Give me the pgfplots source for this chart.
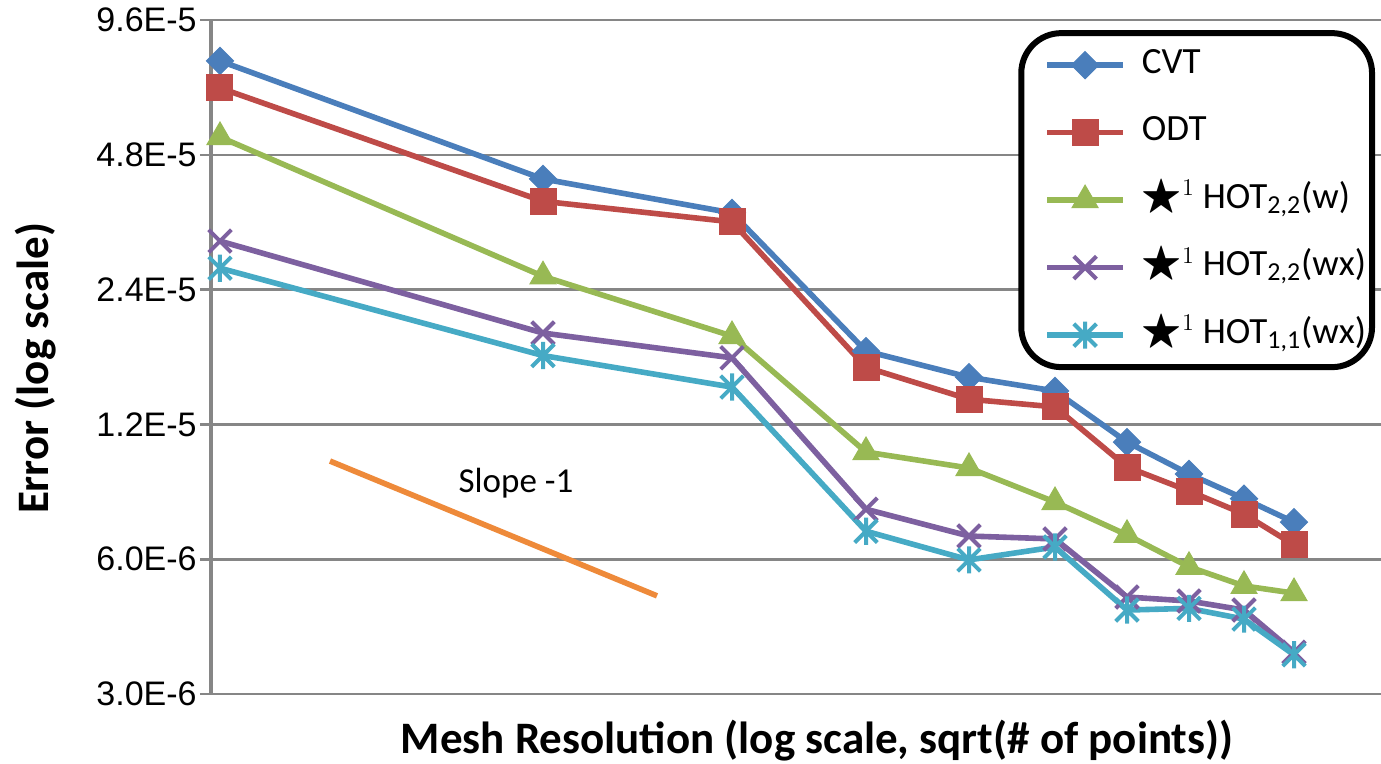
\documentclass[border=0pt]{standalone}
\usepackage{amssymb}
\usepackage{pgfplots}
\pgfplotsset{compat=1.18}
\usepackage{fontspec}
\setmainfont{Carlito}
\newfontfamily\arialfont{Liberation Sans}

\definecolor{cvt}{HTML}{4A7EBB}
\definecolor{odt}{HTML}{BE4B48}
\definecolor{hotw}{HTML}{98B954}
\definecolor{hotwx}{HTML}{7D60A0}
\definecolor{hotone}{HTML}{46AAC5}
\definecolor{slope}{HTML}{EE8A3A}
\definecolor{gridgray}{RGB}{134,134,134}

\pgfdeclareplotmark{xstar}{%
  \pgfpathmoveto{\pgfqpoint{-.7071\pgfplotmarksize}{-.7071\pgfplotmarksize}}%
  \pgfpathlineto{\pgfqpoint{.7071\pgfplotmarksize}{.7071\pgfplotmarksize}}%
  \pgfpathmoveto{\pgfqpoint{-.7071\pgfplotmarksize}{.7071\pgfplotmarksize}}%
  \pgfpathlineto{\pgfqpoint{.7071\pgfplotmarksize}{-.7071\pgfplotmarksize}}%
  \pgfpathmoveto{\pgfqpoint{0pt}{-.85\pgfplotmarksize}}%
  \pgfpathlineto{\pgfqpoint{0pt}{.85\pgfplotmarksize}}%
  \pgfusepathqstroke}

\newcommand{\hstar}{\scalebox{1.15}{$\bigstar$}$^{1}$\hspace{4pt}}

\begin{document}
\begin{tikzpicture}
\begin{axis}[
  at={(0pt,0pt)}, anchor=south west,
  scale only axis, width=585pt, height=337pt,
  xmin=211, xmax=1381,
  ymode=log, ymin=3e-6, ymax=9.6e-5,
  ytick={3e-6,6e-6,1.2e-5,2.4e-5,4.8e-5,9.6e-5},
  yticklabels={3.0E-6,6.0E-6,1.2E-5,2.4E-5,4.8E-5,9.6E-5},
  yminorticks=false,
  xtick=\empty,
  axis y line*=left, axis x line*=bottom,
  x axis line style={draw=none},
  y axis line style={draw=gridgray, line width=2pt},
  ymajorgrids, grid style={draw=gridgray, line width=1.3pt},
  tick align=outside, major tick length=5.5pt,
  ytick style={draw=gridgray, line width=1.3pt},
  yticklabel style={font=\arialfont\fontsize{17}{20}\selectfont, text=black, inner sep=0pt, xshift=-1.5pt},
  xlabel={\bfseries Mesh Resolution (log scale, sqrt(\# of points))},
  ylabel={\bfseries Error (log scale)},
  xlabel style={font=\fontsize{22.5}{26}\selectfont, at={(axis description cs:0.518,-0.069)}, anchor=center},
  ylabel style={font=\fontsize{22.5}{26}\selectfont, at={(axis description cs:-0.1496,0.483)}, anchor=center},
  clip=false,
  legend cell align=left,
  legend image code/.code={\path (-8.5pt,0pt); \draw[mark repeat=2,mark phase=2,#1] plot coordinates {(0pt,0pt) (19pt,0pt) (38pt,0pt)};},
  legend style={at={(0.9949,0.985)}, anchor=north east, draw=black, line width=3pt,
    rounded corners=20pt, inner xsep=3pt, inner ysep=8pt,
    font=\fontsize{18.5}{22}\selectfont, row sep=17.75pt,
    nodes={inner sep=0pt, text height=12pt, text depth=4pt},
    /tikz/every odd column/.append style={column sep=8pt}},
]
\addplot[color=cvt, line width=2.8pt, sharp corners, mark=square*, mark size=4.8pt,
  mark options={rotate=45, line width=0.5pt, solid, sharp corners, fill=cvt}]
  coordinates {(220,7.78e-5) (543,4.24e-5) (732,3.56e-5) (866,1.75e-5) (969,1.53e-5)
  (1055,1.425e-5) (1127,1.096e-5) (1189,9.30e-6) (1244,8.19e-6) (1294,7.26e-6)};
\addlegendentry{CVT}
\addplot[color=odt, line width=2.8pt, sharp corners, mark=square*, mark size=6.5pt,
  mark options={line width=0.5pt, solid, sharp corners, fill=odt}]
  coordinates {(220,6.77e-5) (543,3.78e-5) (732,3.40e-5) (866,1.61e-5) (969,1.366e-5)
  (1055,1.313e-5) (1127,9.64e-6) (1189,8.52e-6) (1244,7.57e-6) (1294,6.46e-6)};
\addlegendentry{ODT}
\addplot[color=hotw, line width=2.8pt, sharp corners, mark=triangle*, mark size=7.5pt,
  mark options={line width=0.5pt, solid, sharp corners, fill=hotw}]
  coordinates {(220,5.26e-5) (543,2.57e-5) (732,1.89e-5) (866,1.041e-5) (969,9.59e-6)
  (1055,8.05e-6) (1127,6.80e-6) (1189,5.77e-6) (1244,5.23e-6) (1294,5.04e-6)};
\addlegendentry{\hstar HOT\textsubscript{2,2}(w)}
\addplot[color=hotwx, line width=2.8pt, sharp corners, mark=x, mark size=8pt,
  mark options={line width=2pt, solid, sharp corners}]
  coordinates {(220,3.08e-5) (543,1.92e-5) (732,1.69e-5) (866,7.76e-6) (969,6.76e-6)
  (1055,6.66e-6) (1127,4.94e-6) (1189,4.84e-6) (1244,4.62e-6) (1294,3.72e-6)};
\addlegendentry{\hstar HOT\textsubscript{2,2}(wx)}
\addplot[color=hotone, line width=2.8pt, sharp corners, mark=xstar, mark size=8pt,
  mark options={line width=2pt, solid, sharp corners}]
  coordinates {(220,2.68e-5) (543,1.71e-5) (732,1.454e-5) (866,6.93e-6) (969,5.98e-6)
  (1055,6.39e-6) (1127,4.62e-6) (1189,4.66e-6) (1244,4.41e-6) (1294,3.67e-6)};
\addlegendentry{\hstar HOT\textsubscript{1,1}(wx)}
\addplot[color=slope, line width=2.8pt, forget plot] coordinates {(330,9.94e-6) (657,4.97e-6)};
\node[font=\fontsize{17.5}{20}\selectfont, text=black] at (axis cs:516,8.88e-6) {Slope -1};
\end{axis}
\pgfresetboundingbox
\path[use as bounding box] (-105.5pt,-35pt) rectangle (585pt,347pt);
\end{tikzpicture}
\end{document}
